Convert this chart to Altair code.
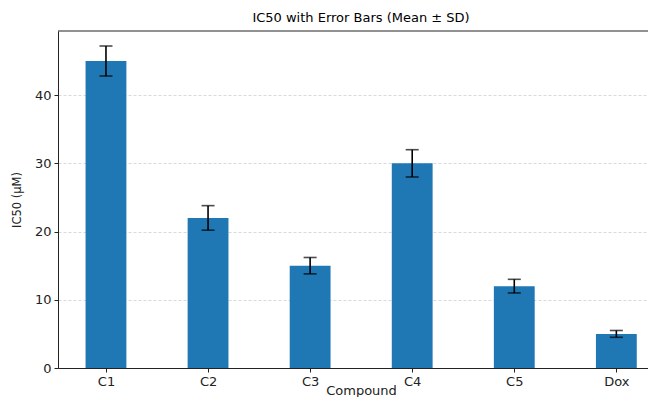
import altair as alt
import pandas as pd

compounds = ["C1", "C2", "C3", "C4", "C5", "Dox"]
means = [45, 22, 15, 30, 12, 5]
sds = [2.2, 1.8, 1.2, 2.0, 1.0, 0.5]
y_ticks = [0, 10, 20, 30, 40]

df = pd.DataFrame({"compound": compounds, "idx": list(range(len(compounds))),
                   "mean": means, "sd": sds})

W, H = 590, 337
FONT = "DejaVu Sans"
label_expr = "[" + ",".join(f"'{c}'" for c in compounds) + "][datum.value]"

x_scale = alt.Scale(domain=[-0.47, 5.31], nice=False, zero=False, padding=0)
y_scale = alt.Scale(domain=[0, 49.4], nice=False, padding=0)

base = alt.Chart(df).transform_calculate(
    x0="datum.idx - 0.2", x1="datum.idx + 0.2", zero="0",
    lo="datum.mean - datum.sd", hi="datum.mean + datum.sd")

bars = base.mark_bar(color="#1f77b4").encode(
    x=alt.X("x0:Q", scale=x_scale,
            axis=alt.Axis(values=list(range(len(compounds))), labelExpr=label_expr,
                          title="Compound", grid=False, titleX=303, titleY=16,
                          titleBaseline="top", titleFontSize=13)),
    x2="x1:Q",
    y=alt.Y("mean:Q", scale=y_scale,
            axis=alt.Axis(values=y_ticks, title="IC50 (μM)", grid=True,
                          titleX=-36, titleY=H / 2, titleAngle=-90,
                          titleAlign="center", titleBaseline="bottom",
                          titleFontSize=11.5)),
    y2="zero:Q",
)

err = base.mark_rule(color="black", strokeWidth=1.6).encode(
    x=alt.X("idx:Q", scale=x_scale), y=alt.Y("lo:Q", scale=y_scale), y2="hi:Q")
cap_lo = base.mark_tick(color="black", orient="horizontal", size=13, thickness=1.6).encode(
    x=alt.X("idx:Q", scale=x_scale), y=alt.Y("lo:Q", scale=y_scale))
cap_hi = base.mark_tick(color="black", orient="horizontal", size=13, thickness=1.6).encode(
    x=alt.X("idx:Q", scale=x_scale), y=alt.Y("hi:Q", scale=y_scale))

top_spine = alt.Chart(pd.DataFrame({"a": [0]})).mark_rule(color="#222", strokeWidth=1).encode(
    x=alt.value(0), x2=alt.value(W), y=alt.value(0))

chart = alt.layer(bars, err, cap_lo, cap_hi, top_spine).properties(
    width=W, height=H,
    autosize=alt.AutoSizeParams(type="none"),
    padding={"left": 50, "top": 23, "right": 0, "bottom": 29},
    title=alt.TitleParams("IC50 with Error Bars (Mean ± SD)", font=FONT, fontSize=13,
                          fontWeight="normal", color="black", anchor="middle",
                          dx=8, offset=6),
).configure_view(stroke=None).configure_axis(
    domainColor="#222", domainWidth=1, tickColor="#222", tickSize=4, tickWidth=1,
    labelFont=FONT, labelFontSize=13, labelColor="#222", labelPadding=3,
    titleFont=FONT, titleFontWeight="normal", titleColor="#222",
    gridColor="#c8c8c8", gridWidth=0.7, gridDash=[3, 2],
)

chart.save("out.html", embed_options={"renderer": "svg", "actions": False})
